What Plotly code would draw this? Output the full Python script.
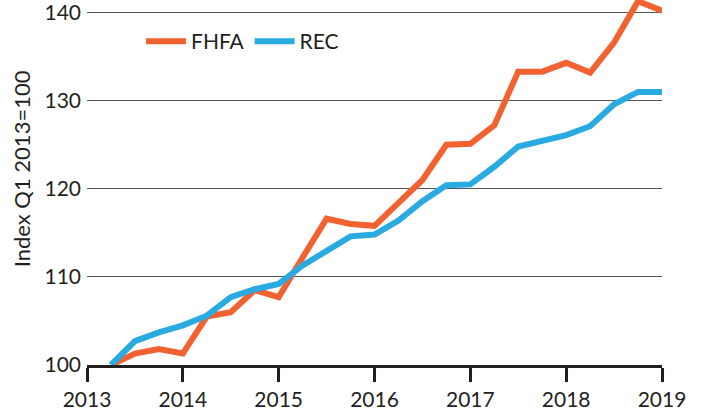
import plotly.graph_objects as go

quarters = [2013.25, 2013.5, 2013.75, 2014.0, 2014.25, 2014.5, 2014.75, 2015.0,
            2015.25, 2015.5, 2015.75, 2016.0, 2016.25, 2016.5, 2016.75, 2017.0,
            2017.25, 2017.5, 2017.75, 2018.0, 2018.25, 2018.5, 2018.75, 2019.0]

fhfa = [100.0, 101.3, 101.8, 101.3, 105.5, 106.0, 108.5, 107.7,
        112.2, 116.6, 116.0, 115.8, 118.4, 121.0, 125.0, 125.1,
        127.2, 133.3, 133.3, 134.3, 133.2, 136.6, 141.3, 140.2]

rec = [100.0, 102.7, 103.7, 104.5, 105.6, 107.7, 108.6, 109.2,
       111.3, 113.0, 114.6, 114.8, 116.4, 118.6, 120.4, 120.5,
       122.5, 124.8, 125.4, 126.1, 127.1, 129.6, 131.0, 131.0]

x_ticks = [2013, 2014, 2015, 2016, 2017, 2018, 2019]
y_ticks = [100, 110, 120, 130, 140]

FONT = "Lato, 'Open Sans', sans-serif"
TXT = "#231f20"

fig = go.Figure()
fig.add_trace(go.Scatter(x=quarters, y=fhfa, mode="lines", name="FHFA",
                         line=dict(color="#F26130", width=6)))
fig.add_trace(go.Scatter(x=quarters, y=rec, mode="lines", name="REC",
                         line=dict(color="#29ABE2", width=6)))

fig.update_layout(
    width=702, height=411,
    margin=dict(l=87, r=40, t=0, b=46, autoexpand=False),
    paper_bgcolor="white", plot_bgcolor="white",
    font=dict(family=FONT, size=21, color=TXT),
    showlegend=True,
    legend=dict(orientation="h", x=0.094, y=0.886, xanchor="left", yanchor="middle",
                font=dict(size=21, color=TXT), bgcolor="rgba(0,0,0,0)",
                itemwidth=40, tracegroupgap=0),
    annotations=[dict(text="Index Q1 2013=100", textangle=-90, showarrow=False,
                      xref="paper", yref="paper", x=-0.1125, y=0.537,
                      xanchor="center", yanchor="middle",
                      font=dict(size=22, color=TXT, family=FONT))],
)

fig.update_xaxes(range=[2013, 2019], tickvals=x_ticks, ticktext=[str(v) for v in x_ticks],
                 showgrid=False, zeroline=False, showline=True, linecolor="#231f20",
                 linewidth=3, ticks="outside", ticklen=14, tickwidth=3, automargin=False,
                 tickcolor="#231f20", tickfont=dict(size=21, color=TXT))
fig.update_yaxes(range=[100, 141.43], tickvals=y_ticks, ticktext=[str(v) for v in y_ticks],
                 showgrid=True, gridcolor="#555555", gridwidth=1.2, zeroline=False,
                 showline=False, ticks="", ticklabelstandoff=5, automargin=False,
                 ticklabeloverflow="allow",
                 tickfont=dict(size=21, color=TXT))

fig.write_html("out.html",
               config={"displayModeBar": False},
               post_script="document.body.style.margin='0';"
                           "document.body.style.overflow='hidden';")
